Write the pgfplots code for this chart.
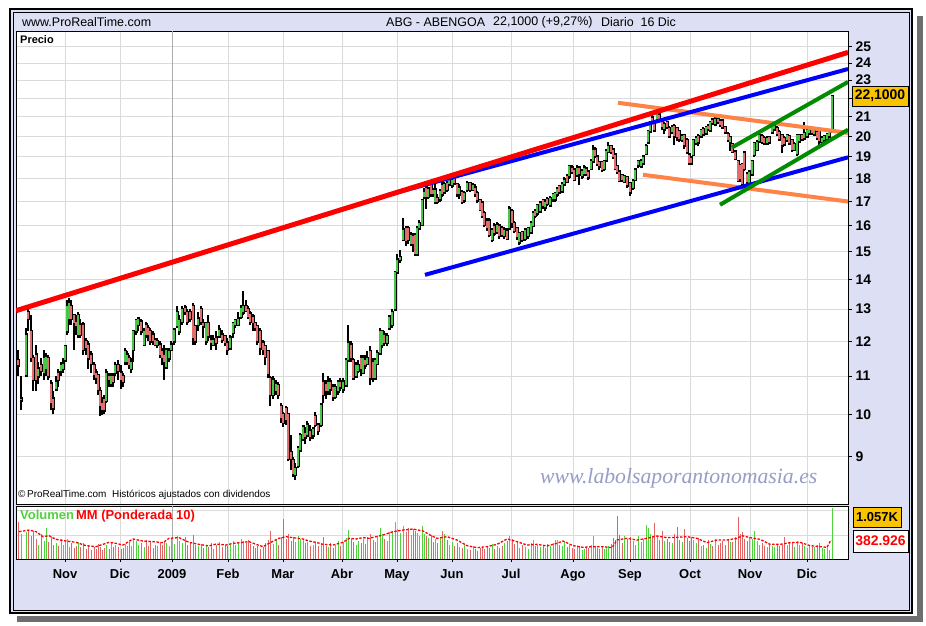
\documentclass[border=0pt]{standalone}
\usepackage{pgfplots}
\pgfplotsset{compat=1.18}
\usepackage{pgfplotstable}
\usepackage{fontspec}
\setmainfont{Liberation Sans}
\newfontfamily\wmfont{Liberation Serif}
\definecolor{lav}{RGB}{221,223,244}
\definecolor{gridc}{RGB}{218,218,218}
\definecolor{candg}{RGB}{70,200,70}
\definecolor{candr}{RGB}{225,110,110}
\definecolor{volg}{RGB}{80,210,60}
\definecolor{volr}{RGB}{225,100,100}
\definecolor{gold}{RGB}{250,195,0}
\definecolor{tlorange}{RGB}{255,130,70}
\definecolor{tlgreen}{RGB}{0,140,0}
\definecolor{wmc}{RGB}{150,158,198}
\definecolor{shadowc}{RGB}{110,110,110}

\pgfplotstableread{
x o h l c v
21 10.36 11.0 10.1 10.40 520
26 11.03 12.4 11.0 12.2 560
38 11.0 11.4 10.8 11.2 300
44 11.1 11.74 10.9 11.5 380
46 11.2 11.65 11.0 11.55 640
56 10.65 11.0 10.6 10.85 330
61 11.15 11.4 11.0 11.3 420
63 11.2 11.5 11.1 11.35 300
65 11.45 11.9 11.4 11.85 390
67 12.3 13.3 12.2 13.1 420
69 12.7 13.35 12.5 13.2 250
78 12.2 12.9 12.1 12.8 360
106 10.35 11.2 10.3 11.1 290
111 10.8 11.1 10.7 11.0 340
115 11.1 11.4 11.0 11.3 290
125 11.4 11.8 11.3 11.7 310
127 11.4 11.7 11.3 11.6 270
131 11.2 11.5 11.1 11.4 260
133 11.75 12.35 11.4 12.3 420
136 12.3 12.7 12.2 12.65 380
138 12.5 12.7 12.3 12.7 290
144 11.9 12.4 11.85 12.3 250
157 11.9 12.1 11.8 12.0 260
166 11.25 11.8 11.2 11.75 330
169 11.5 11.8 11.4 11.7 260
171 11.75 12.0 11.7 11.9 430
174 12.0 12.4 11.9 12.35 320
177 12.45 13.1 12.4 12.9 470
179 12.3 12.8 12.2 12.65 380
182 12.6 13.1 12.5 13.0 340
198 12.5 12.9 12.3 12.7 260
206 12.0 12.6 11.9 12.55 280
213 11.9 12.2 11.85 12.05 200
219 12.15 12.5 12.1 12.35 350
230 11.8 12.2 11.75 12.1 310
233 12.25 12.6 12.1 12.55 380
235 12.5 12.7 12.4 12.65 290
238 12.5 12.9 12.45 12.7 350
241 12.75 13.15 12.7 13.05 420
243 12.9 13.6 12.8 13.1 380
273 10.5 11.0 10.4 10.9 320
276 10.6 10.9 10.5 10.8 400
295 8.6 8.85 8.5 8.75 350
298 8.8 9.25 8.75 9.2 480
300 9.15 9.55 9.1 9.5 420
303 9.4 9.75 9.35 9.7 390
307 9.5 9.85 9.45 9.75 360
313 9.5 9.7 9.4 9.65 300
321 9.75 10.3 9.7 10.25 320
328 10.6 11.0 10.5 10.85 250
335 10.45 10.8 10.4 10.7 290
338 10.6 10.9 10.5 10.85 380
343 10.65 10.95 10.55 10.85 350
346 10.75 11.5 10.7 11.45 430
348 11.45 12.5 11.4 11.95 600
356 11.0 11.4 10.95 11.3 300
358 11.15 11.45 11.1 11.3 380
363 11.1 11.6 11.05 11.5 420
367 11.35 11.7 11.3 11.5 450
375 10.95 11.5 10.9 11.45 350
377 11.35 11.75 11.3 11.65 480
380 11.65 12.4 11.6 12.3 640
382 11.9 12.35 11.8 12.3 510
387 11.95 12.25 11.85 12.15 380
389 12.4 12.8 12.35 12.75 560
392 12.5 13.0 12.4 12.9 590
395 13.0 14.3 12.95 14.25 760
397 14.25 14.9 14.2 14.7 620
400 14.7 15.05 14.6 14.8 530
403 15.45 16.3 15.4 15.85 680
411 15.3 15.75 15.2 15.65 500
417 14.9 16.0 14.85 15.9 540
419 15.9 16.25 15.85 16.1 470
422 16.05 17.1 16.0 17.05 690
424 17.2 17.6 17.1 17.4 520
428 17.2 17.6 17.1 17.55 430
435 17.0 17.75 16.9 17.5 410
440 17.1 17.55 17.0 17.45 440
444 17.4 17.85 17.3 17.75 520
449 17.75 18.05 17.65 18.0 300
452 17.7 18.0 17.6 17.95 350
459 17.3 17.75 17.1 17.6 250
464 17.05 17.45 16.95 17.35 300
467 17.5 17.9 17.4 17.8 200
473 17.5 17.8 17.45 17.7 260
492 15.45 15.9 15.35 15.85 310
497 15.75 16.15 15.7 16.05 260
504 15.6 15.95 15.5 15.85 330
509 15.9 16.8 15.85 16.7 480
519 15.35 15.75 15.25 15.7 230
525 15.5 15.9 15.4 15.85 250
528 15.6 15.95 15.5 15.9 210
531 15.75 16.2 15.7 16.1 330
533 16.0 16.6 15.95 16.5 400
537 16.5 16.9 16.4 16.85 300
540 16.6 17.0 16.5 16.95 240
545 16.75 17.1 16.6 17.0 230
550 16.85 17.25 16.75 17.15 280
553 17.1 17.35 17.0 17.3 330
555 17.1 17.4 17.0 17.35 400
557 17.3 17.6 17.2 17.55 390
562 17.45 17.85 17.4 17.75 280
564 17.75 18.05 17.7 17.95 360
569 18.1 18.6 18.0 18.55 290
577 18.15 18.6 18.1 18.5 240
582 18.1 18.45 18.0 18.35 180
584 18.2 18.6 18.1 18.5 210
591 18.45 18.9 18.4 18.8 300
593 18.8 19.55 18.75 19.35 470
604 18.45 18.85 18.35 18.8 200
606 18.85 19.4 18.8 19.3 240
608 19.25 19.7 19.2 19.5 280
624 17.85 18.15 17.8 18.1 480
633 17.6 17.95 17.5 17.9 380
635 17.95 18.45 17.9 18.4 300
638 18.6 18.85 18.5 18.8 470
641 18.55 18.9 18.5 18.8 350
643 18.7 19.05 18.6 19.0 420
646 19.15 19.6 19.1 19.5 705
648 19.7 20.3 19.6 20.25 650
650 20.25 20.8 20.2 20.7 520
657 20.9 21.35 20.8 21.15 450
664 20.35 20.7 20.1 20.6 380
672 20.2 20.55 20.1 20.45 330
682 19.8 20.1 19.7 20.0 360
693 19.1 19.85 19.05 19.8 400
696 19.65 20.0 19.55 19.9 330
701 20.0 20.35 19.9 20.3 270
706 20.15 20.5 20.05 20.45 220
710 20.3 20.8 20.25 20.7 310
715 20.6 21.0 20.5 20.9 410
730 19.7 20.0 19.3 19.95 350
749 17.8 18.35 17.6 18.3 450
752 18.2 18.85 18.15 18.8 420
754 19.1 19.7 19.0 19.65 580
757 19.35 19.8 19.3 19.7 380
759 19.75 20.15 19.7 20.05 300
767 19.65 20.0 19.6 19.9 240
772 20.2 20.6 20.15 20.5 280
774 20.35 20.8 20.3 20.55 250
787 19.8 20.1 19.7 20.05 290
794 19.35 19.7 19.3 19.6 250
797 19.15 20.1 19.05 20.05 370
799 19.75 20.1 19.7 20.05 300
804 19.9 20.7 19.85 20.15 270
807 20.0 20.35 19.95 20.3 230
809 20.15 20.4 20.1 20.35 280
814 20.1 20.35 20.05 20.3 240
822 19.7 20.0 19.65 19.9 220
824 19.8 20.05 19.75 20.0 200
827 19.85 20.15 19.8 20.1 240
829 20.0 20.3 19.95 20.25 180
832 20.23 22.1 20.2 22.1 1057
}\upt

\pgfplotstableread{
x o h l c v
18 11.45 11.75 11.0 11.31 770
28 12.9 13.0 12.3 12.7 610
31 12.3 12.8 11.4 11.5 480
33 11.5 11.6 10.6 10.9 590
36 11.6 11.9 10.6 10.9 420
41 11.3 11.5 11.0 11.15 520
48 11.5 11.6 10.9 11.0 350
51 10.8 10.9 10.1 10.3 450
53 10.4 10.6 10.0 10.15 290
58 11.1 11.2 10.7 10.9 260
71 13.1 13.3 12.5 12.7 330
74 12.8 12.85 11.75 12.55 230
76 12.6 12.8 12.2 12.45 280
80 12.5 12.7 12.1 12.2 240
83 12.5 12.6 11.6 11.75 330
86 12.0 12.1 11.6 11.8 210
88 11.9 12.0 11.2 11.5 270
91 11.6 11.7 11.1 11.35 190
94 11.3 11.4 10.9 11.03 240
96 11.1 11.2 10.8 10.95 200
98 11.03 11.05 10.5 10.63 310
100 10.6 10.7 9.95 10.2 250
102 10.3 10.45 9.98 10.1 180
104 10.4 10.5 10.0 10.1 220
109 11.0 11.1 10.7 10.9 210
113 11.0 11.1 10.7 10.85 250
118 11.3 11.45 10.9 11.15 240
121 11.1 11.3 10.65 10.9 200
123 11.0 11.1 10.7 10.85 230
129 11.5 11.6 11.2 11.3 350
141 12.6 12.7 12.2 12.3 330
146 12.5 12.6 12.1 12.2 400
148 12.4 12.5 12.0 12.2 280
150 12.3 12.4 11.9 12.0 350
153 12.2 12.3 11.9 12.0 230
155 12.05 12.1 11.85 11.9 300
160 11.9 12.0 11.5 11.6 340
162 11.7 11.8 11.3 11.5 290
164 11.6 11.9 10.9 11.4 380
185 13.05 13.15 12.8 12.9 450
187 12.9 13.0 12.5 12.6 300
190 12.9 13.0 12.6 12.7 360
193 13.1 13.2 11.9 12.1 500
195 12.45 12.5 11.9 12.0 290
201 13.0 13.1 12.5 12.6 310
203 12.55 12.7 12.1 12.45 220
208 12.55 12.8 12.0 12.15 250
211 12.05 12.2 11.75 11.95 330
216 12.1 12.3 11.75 11.95 290
222 12.2 12.35 11.95 12.05 240
225 12.15 12.2 11.85 11.95 300
227 11.95 12.1 11.6 11.75 260
246 13.1 13.3 12.9 12.95 330
248 13.0 13.1 12.7 12.75 400
250 12.85 12.95 12.5 12.6 310
253 12.75 12.85 12.3 12.55 260
255 12.55 12.6 12.3 12.4 230
257 12.45 12.5 11.9 12.0 280
260 12.3 12.4 11.6 11.8 200
263 11.95 12.05 11.6 11.75 250
265 11.85 11.9 11.3 11.55 330
268 11.7 11.75 10.95 11.05 390
270 10.95 11.0 10.2 10.5 580
278 10.75 10.85 10.4 10.5 300
281 10.2 10.3 9.8 9.9 450
283 10.0 10.05 9.7 9.8 840
286 10.15 10.2 9.75 9.86 420
288 10.0 10.0 8.9 8.95 520
291 9.1 9.5 8.7 8.95 380
293 8.92 9.0 8.55 8.63 450
305 9.55 9.7 9.3 9.45 330
310 9.6 9.75 9.35 9.45 280
315 9.95 10.05 9.7 9.75 350
318 9.75 9.8 9.5 9.6 260
323 10.85 11.1 10.3 10.5 460
326 10.8 10.9 10.4 10.6 280
330 10.85 10.95 10.5 10.65 330
333 10.7 10.8 10.35 10.45 230
340 10.85 10.95 10.6 10.7 270
351 11.9 12.0 11.4 11.5 410
353 11.45 11.5 10.9 10.95 350
361 11.5 11.6 11.0 11.2 330
365 11.45 11.6 11.2 11.3 310
370 11.7 11.85 10.75 10.95 520
373 11.4 11.5 10.85 10.95 400
384 12.2 12.3 11.85 11.95 420
406 15.9 16.0 15.2 15.4 560
408 15.9 16.0 15.3 15.45 640
413 15.6 15.7 15.0 15.3 620
415 15.65 15.7 14.85 14.9 580
426 17.6 17.8 16.7 17.2 480
431 17.7 17.8 17.2 17.3 500
433 17.5 17.6 17.2 17.3 360
437 17.15 17.3 16.9 17.0 330
442 17.7 17.9 17.2 17.3 580
447 17.8 17.9 17.4 17.5 390
454 18.0 18.1 17.7 17.8 280
457 17.75 17.8 17.2 17.3 330
462 17.4 17.5 16.9 17.0 230
470 17.8 17.85 17.4 17.5 190
475 17.6 17.75 17.2 17.3 210
477 17.35 17.45 16.95 17.05 170
480 17.05 17.1 16.6 16.65 220
482 16.95 17.0 16.3 16.4 250
484 16.5 16.6 15.95 16.05 200
487 16.2 16.3 15.8 15.9 280
489 16.2 16.3 15.55 15.65 230
494 16.0 16.1 15.6 15.7 210
499 16.0 16.05 15.5 15.6 220
502 15.9 16.0 15.55 15.65 280
507 15.8 15.9 15.45 15.5 380
512 16.6 16.7 15.9 16.1 420
514 16.1 16.2 15.7 15.8 310
517 15.9 15.95 15.45 15.55 350
522 15.75 15.8 15.35 15.45 290
535 16.6 16.7 16.3 16.4 280
543 17.05 17.1 16.7 16.8 270
547 17.1 17.2 16.8 16.9 310
559 17.65 17.7 17.3 17.4 300
567 18.1 18.2 17.8 17.85 250
572 18.5 18.6 18.2 18.3 230
574 18.4 18.45 17.9 17.95 200
579 18.5 18.55 17.7 18.2 260
586 18.45 18.5 18.1 18.2 250
588 18.3 18.4 17.95 18.05 220
595 19.35 19.45 18.95 19.05 260
597 19.0 19.1 18.55 18.65 230
599 18.75 18.8 18.4 18.55 210
602 18.75 18.8 18.3 18.4 260
611 19.5 19.55 19.15 19.25 310
613 19.35 19.4 18.9 19.0 440
615 19.1 19.15 18.4 18.45 400
617 18.55 18.6 18.2 18.3 890
619 18.3 18.35 17.85 17.9 500
622 18.15 18.2 17.85 17.95 330
627 18.05 18.1 17.6 17.7 420
630 17.8 17.85 17.25 17.4 450
652 20.95 21.1 20.6 20.7 480
654 20.6 20.7 20.2 20.3 740
659 21.1 21.2 20.7 20.8 400
662 20.7 20.8 20.3 20.45 580
667 20.7 20.75 20.35 20.45 420
669 20.4 20.5 19.9 20.0 360
674 20.5 20.6 19.55 20.0 520
677 20.4 20.45 19.75 19.95 670
679 20.25 20.3 19.7 19.85 400
684 20.05 20.1 19.4 19.55 620
687 19.8 19.9 19.15 19.25 430
689 19.1 19.2 18.6 18.7 380
691 18.95 19.0 18.6 18.7 460
698 20.0 20.1 19.5 19.7 430
703 20.35 20.45 20.0 20.1 300
708 20.5 20.6 20.25 20.35 400
712 20.85 20.9 20.6 20.65 260
718 20.9 21.0 20.6 20.7 290
720 20.8 20.9 20.5 20.55 340
722 20.8 20.85 20.4 20.45 380
725 20.45 20.5 20.1 20.2 300
728 20.1 20.2 19.7 19.8 420
732 19.6 19.65 19.2 19.25 360
735 19.25 19.3 18.85 18.9 450
738 18.8 18.85 17.85 17.9 865
740 18.6 18.65 17.85 18.0 520
742 18.65 18.7 17.6 17.75 560
744 19.2 19.3 18.35 18.45 420
747 18.2 18.3 17.75 17.85 380
762 20.0 20.1 19.6 19.7 330
764 19.9 20.0 19.55 19.65 260
769 19.95 20.0 19.6 19.7 300
777 20.4 20.5 20.0 20.1 310
779 20.2 20.3 19.8 19.85 260
782 20.05 20.1 19.2 19.55 300
784 19.9 20.0 19.5 19.6 460
789 20.0 20.05 19.55 19.65 330
792 19.8 19.85 19.25 19.35 360
802 20.05 20.1 19.75 19.85 340
812 20.4 20.45 20.1 20.15 250
817 20.2 20.25 19.85 19.9 300
819 20.3 20.35 19.5 19.75 330
}\dnt

\pgfplotstableread{
x m
19 567
29 600
36 567
43 463
49 484
56 408
66 373
76 346
86 277
96 256
103 304
109 346
116 325
123 290
133 415
143 373
153 360
163 339
169 429
179 443
189 346
199 304
209 270
216 311
226 290
233 325
243 346
249 360
256 304
263 256
269 325
279 429
286 463
293 443
303 415
309 373
316 346
323 304
333 290
343 346
349 429
356 415
363 443
369 429
376 463
383 498
393 567
403 601
413 622
423 581
430 498
437 429
447 463
457 394
467 277
477 235
487 256
497 304
507 415
517 360
527 290
537 304
547 270
557 325
563 373
573 277
583 242
593 256
603 256
612 235
617 394
627 429
637 394
647 429
657 477
667 443
677 450
687 463
697 429
707 339
717 394
727 394
737 429
742 484
750 443
760 408
770 304
780 304
790 339
800 346
810 277
820 256
827 242
830 360
832 380
}\mat

% build segment lists (x,a) (x,b) (x,nan) from two columns of a table
\newcommand\buildsegs[4]{%
  \pgfplotstablegetrowsof{#1}%
  \pgfmathtruncatemacro\nrowsm{\pgfplotsretval-1}%
  \gdef#4{}%
  \foreach \i in {0,...,\nrowsm}{%
    \pgfplotstablegetelem{\i}{x}\of#1\let\cx\pgfplotsretval
    \pgfplotstablegetelem{\i}{#2}\of#1\let\ca\pgfplotsretval
    \pgfplotstablegetelem{\i}{#3}\of#1\let\cb\pgfplotsretval
    \xdef#4{#4 (\cx,\ca) (\cx,\cb) (\cx,nan)}%
  }%
}
\buildsegs{\upt}{l}{h}{\wickup}
\buildsegs{\dnt}{l}{h}{\wickdn}
\buildsegs{\upt}{o}{c}{\bodyup}
\buildsegs{\dnt}{o}{c}{\bodydn}

\begin{document}
\begin{tikzpicture}[x=1bp,y=1bp]
% page background and frame
\fill[white] (0,0) rectangle (926,626);
\fill[shadowc] (17,4) rectangle (923,610);
\fill[white] (913,10) rectangle (917,617);
\fill[white] (10,10) rectangle (917,13);
\fill[lav] (10,13) rectangle (912,617);
\draw[black, line width=2bp] (10,13) rectangle (912,617);
\draw[black, line width=0.8bp] (13,16) rectangle (909,614);

% header texts
\node[anchor=west, inner sep=0] at (22,604) {\fontsize{12.5}{14}\selectfont www.ProRealTime.com};
\node[anchor=west, inner sep=0] at (386,604) {\fontsize{12.5}{14}\selectfont ABG - ABENGOA};
\node[anchor=west, inner sep=0] at (493,604) {\fontsize{12.5}{14}\selectfont 22,1000 (+9,27\%)};
\node[anchor=west, inner sep=0] at (601,604) {\fontsize{12.5}{14}\selectfont Diario\ \ 16 Dic};

% ---------------- price panel
\begin{axis}[
  at={(16bp,122bp)}, anchor=south west, scale only axis,
  width=832bp, height=473bp,
  xmin=16, xmax=848, ymode=log, ymin=8.0, ymax=26.0,
  axis background/.style={fill=white},
  axis line style={black, line width=0.8bp},
  /pgf/number format/assume math mode=true,
  ytick={9,10,11,12,13,14,15,16,17,18,19,20,21,22,23,24,25},
  yticklabels={9,10,11,12,13,14,15,16,17,18,19,20,21,,23,24,25},
  yticklabel pos=right, ytick pos=right,
  tick align=outside,
  major tick length=4bp,
  y tick style={black, line width=0.8bp},
  yticklabel style={font=\fontsize{14}{14}\selectfont\bfseries},
  xtick={65,120,228,283,342,397,452,511,573,630,690,750,807},
  xticklabels={},
  x tick style={draw=none},
  xmajorgrids, ymajorgrids,
  grid style={color=gridc, line width=0.8bp},
  extra x ticks={172}, extra x tick labels={},
  extra x tick style={grid style={color=gray!65, line width=0.9bp}, tick style={draw=none}},
  unbounded coords=jump,
  clip=true,
]
\edef\tmpplot{\noexpand\addplot[black, line width=1.05bp, mark=none, forget plot] coordinates {\wickup\space\wickdn};}\tmpplot
\edef\tmpplot{\noexpand\addplot[black, line width=3bp, line cap=rect, mark=none, forget plot] coordinates {\bodyup\space\bodydn};}\tmpplot
\edef\tmpplot{\noexpand\addplot[candg, line width=1.3bp, mark=none, forget plot] coordinates {\bodyup};}\tmpplot
\edef\tmpplot{\noexpand\addplot[candr, line width=1.3bp, mark=none, forget plot] coordinates {\bodydn};}\tmpplot
% trend lines
\addplot[tlorange, line width=4bp, forget plot] coordinates {(618,21.74) (848,20.17)};
\addplot[tlorange, line width=4bp, forget plot] coordinates {(643,18.17) (848,17.0)};
\addplot[blue, line width=4bp, forget plot] coordinates {(425,14.16) (848,18.98)};
\addplot[blue, line width=4bp, forget plot] coordinates {(388,17.28) (848,23.65)};
\addplot[red, line width=5bp, forget plot] coordinates {(16,12.95) (848,24.65)};
\addplot[tlgreen, line width=4bp, forget plot] coordinates {(732,19.45) (848,22.9)};
\addplot[tlgreen, line width=4bp, forget plot] coordinates {(720,16.86) (848,20.33)};
\end{axis}

\node[anchor=west, inner sep=0] at (20,586) {\fontsize{11}{12}\selectfont\bfseries Precio};
\node[anchor=west, inner sep=0] at (18,131) {\fontsize{10}{11}\selectfont \textcopyright\,ProRealTime.com\ \ Históricos ajustados con dividendos};
\node[anchor=west, inner sep=0, text=wmc] at (540,148) {\wmfont\itshape\fontsize{21.8}{23}\selectfont www.labolsaporantonomasia.es};

% price box
\draw[black, line width=0.8bp, fill=gold] (852,520) rectangle (908,540);
\node at (880,530) {\fontsize{14}{14}\selectfont\bfseries 22,1000};

% ---------------- volume panel
\begin{axis}[
  at={(16bp,67bp)}, anchor=south west, scale only axis,
  width=832bp, height=53bp,
  xmin=16, xmax=848, ymin=0, ymax=1100,
  axis background/.style={fill=white},
  axis line style={black, line width=0.8bp},
  /pgf/number format/assume math mode=true,
  ytick={500,1000}, yticklabels={}, y tick style={draw=none},
  ymajorgrids, xmajorgrids,
  grid style={color=gridc, line width=0.8bp},
  xtick={65,120,172,228,283,342,397,452,511,573,630,690,750,807},
  xticklabels={Nov,Dic,2009,Feb,Mar,Abr,May,Jun,Jul,Ago,Sep,Oct,Nov,Dic},
  xtick pos=bottom, tick align=outside, major tick length=3bp,
  x tick style={black, line width=0.8bp},
  xticklabel style={font=\fontsize{13}{13}\selectfont\bfseries, yshift=-4bp},
  extra x ticks={172}, extra x tick labels={},
  extra x tick style={grid style={color=gray!65, line width=0.9bp}, tick style={draw=none}},
  clip=true,
]
\addplot[ycomb, draw=volg, line width=1bp, mark=none, forget plot] table[x=x, y=v] {\upt};
\addplot[ycomb, draw=volr, line width=1bp, mark=none, forget plot] table[x=x, y=v] {\dnt};
\addplot[red, line width=1.3bp, dash pattern=on 2.5bp off 1.5bp, mark=none, forget plot] table[x=x, y=m] {\mat};
\end{axis}

\node[anchor=west, inner sep=0] at (20,110) {\fontsize{13}{13}\selectfont\bfseries\textcolor{volg}{Volumen}\,\textcolor{red}{MM (Ponderada 10)}};

\draw[black, line width=0.8bp, fill=gold] (853,99) rectangle (901,119);
\node at (877,109) {\fontsize{13}{13}\selectfont\bfseries 1.057K};
\draw[black, line width=0.8bp, fill=white] (853,74) rectangle (908,96);
\node at (880.5,85) {\fontsize{14}{14}\selectfont\bfseries\textcolor{red}{382.926}};

\pgfresetboundingbox
\path (0,0) rectangle (926,626);
\end{tikzpicture}
\end{document}
